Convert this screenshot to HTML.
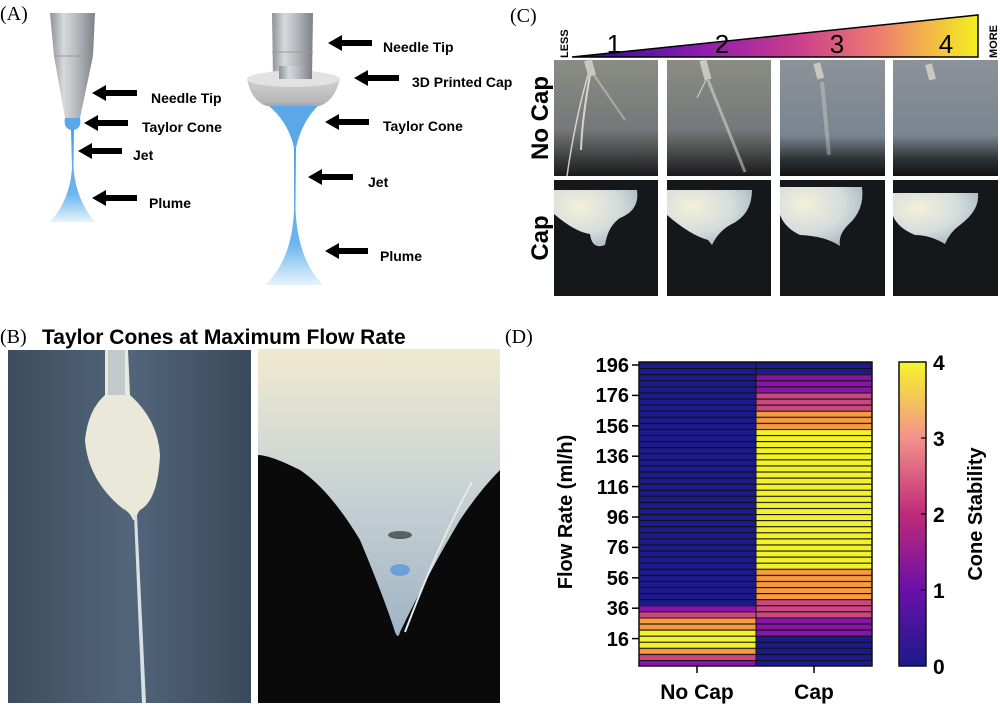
<!DOCTYPE html>
<html><head><meta charset="utf-8"><style>
html,body{margin:0;padding:0;background:#fff;width:1000px;height:708px;overflow:hidden}
svg{display:block}
.b{font-family:"Liberation Sans",sans-serif;font-weight:bold}
.s{font-family:"Liberation Serif",serif}
</style></head><body>
<svg width="1000" height="708" viewBox="0 0 1000 708" xmlns="http://www.w3.org/2000/svg">
<defs>
<linearGradient id="ndl" x1="0" x2="1"><stop offset="0" stop-color="#8e9296"/><stop offset=".3" stop-color="#d6d9dc"/><stop offset=".6" stop-color="#b5b9bd"/><stop offset="1" stop-color="#7d8185"/></linearGradient>
<linearGradient id="plm" x1="0" y1="0" x2="0" y2="1"><stop offset="0" stop-color="#4aa3e8"/><stop offset=".7" stop-color="#6db6ee"/><stop offset="1" stop-color="#e6f3fc"/></linearGradient>
<linearGradient id="cap" x1="0" y1="0" x2="0" y2="1"><stop offset="0" stop-color="#d8d8d8"/><stop offset="1" stop-color="#a9a9a9"/></linearGradient>
<linearGradient id="tri" x1="0" x2="1"><stop offset="0" stop-color="#1a1090"/><stop offset=".3" stop-color="#8a1ab0"/><stop offset=".55" stop-color="#c83c8c"/><stop offset=".75" stop-color="#ee7a70"/><stop offset="1" stop-color="#f4f020"/></linearGradient>
<linearGradient id="nc" x1="0" y1="0" x2="0" y2="1"><stop offset="0" stop-color="#8a8c84"/><stop offset=".6" stop-color="#75787a"/><stop offset="1" stop-color="#1a1a1a"/></linearGradient>
<linearGradient id="nc2" x1="0" y1="0" x2="0" y2="1"><stop offset="0" stop-color="#8c9298"/><stop offset=".65" stop-color="#7a8590"/><stop offset=".85" stop-color="#303438"/><stop offset="1" stop-color="#111"/></linearGradient>
<radialGradient id="capw" cx=".3" cy=".3" r=".8"><stop offset="0" stop-color="#f4f0da"/><stop offset=".6" stop-color="#d4dcdc"/><stop offset="1" stop-color="#a6b8c0"/></radialGradient>
<linearGradient id="bl" x1="0" x2="1"><stop offset="0" stop-color="#3d4d5e"/><stop offset=".5" stop-color="#52657a"/><stop offset="1" stop-color="#3a4a5c"/></linearGradient>
<linearGradient id="br" x1="0" y1="0" x2="0" y2="1"><stop offset="0" stop-color="#f0ead0"/><stop offset=".5" stop-color="#c8d2d4"/><stop offset="1" stop-color="#a0b4c4"/></linearGradient>
<linearGradient id="cb" x1="0" y1="1" x2="0" y2="0"><stop offset="0" stop-color="#1c1a8a"/><stop offset=".25" stop-color="#6a10a8"/><stop offset=".5" stop-color="#c02a78"/><stop offset=".75" stop-color="#f2928a"/><stop offset="1" stop-color="#f6f52a"/></linearGradient>
<pattern id="rows" patternUnits="userSpaceOnUse" x="639" y="362" width="233" height="6.08"><rect width="233" height="1.1" fill="#111"/></pattern>
</defs>

<!-- Panel A -->
<text x="0" y="20" class="s" font-size="20">(A)</text>
<path d="M50 13 L95 13 L93 56 L80 118 L65 118 L54 56 Z" fill="url(#ndl)"/>
<line x1="54" y1="56" x2="93" y2="56" stroke="#999" stroke-width="1"/>
<path d="M65 118 L80 118 Q82 128 74 130 L71 130 Q63 128 65 118Z" fill="#5aa8e8"/>
<path d="M71 130 L74 130 L73.5 168 Q76 200 95 222 L50 222 Q70 200 72 168Z" fill="url(#plm)"/>
<path d="M272 13 L313 13 L312 78 L273 78Z" fill="url(#ndl)"/>
<line x1="272" y1="52" x2="313" y2="52" stroke="#999"/>
<path d="M265 103 L321 103 Q302 120 296 148 L294 148 Q288 120 265 103Z" fill="#5aa8e8"/>
<path d="M247 79 Q293 60 340 79 Q335 100 320 106 L266 106 Q251 100 247 79Z" fill="url(#cap)" opacity=".9"/>
<ellipse cx="293.5" cy="79" rx="46.5" ry="8" fill="#e2e2e2"/>
<rect x="279" y="66" width="33" height="13" fill="url(#ndl)"/>
<path d="M294 148 L296 148 L295.5 210 Q298 260 323 285 L265 285 Q292 260 294 210Z" fill="url(#plm)"/>
<g fill="#000">
<path d="M92 93 L106 85 L106 90 L137 90 L137 96 L106 96 L106 101Z"/>
<path d="M84 123 L98 115 L98 120 L128 120 L128 126 L98 126 L98 131Z"/>
<path d="M78 151 L92 143 L92 148 L122 148 L122 154 L92 154 L92 159Z"/>
<path d="M92 198 L106 190 L106 195 L137 195 L137 201 L106 201 L106 206Z"/>
<path d="M328 43 L342 35 L342 40 L372 40 L372 46 L342 46 L342 51Z"/>
<path d="M354 78 L368 70 L368 75 L399 75 L399 81 L368 81 L368 86Z"/>
<path d="M325 122 L339 114 L339 119 L369 119 L369 125 L339 125 L339 130Z"/>
<path d="M308 177 L322 169 L322 174 L353 174 L353 180 L322 180 L322 185Z"/>
<path d="M325 251 L339 243 L339 248 L368 248 L368 254 L339 254 L339 259Z"/>
</g>
<g class="b" font-size="14" fill="#000">
<text x="151" y="103">Needle Tip</text>
<text x="142" y="132">Taylor Cone</text>
<text x="133" y="160">Jet</text>
<text x="149" y="208">Plume</text>
<text x="383" y="52">Needle Tip</text>
<text x="412" y="87">3D Printed Cap</text>
<text x="383" y="131">Taylor Cone</text>
<text x="368" y="187">Jet</text>
<text x="380" y="261">Plume</text>
</g>

<!-- Panel C -->
<text x="510" y="22" class="s" font-size="20">(C)</text>
<path d="M572 57 L978 15 L978 57Z" fill="url(#tri)" stroke="#000" stroke-width="1.5"/>
<text transform="translate(568,58) rotate(-90)" class="b" font-size="11">LESS</text>
<text transform="translate(997,58) rotate(-90)" class="b" font-size="11">MORE</text>
<g font-family="Liberation Sans,sans-serif" font-size="26" text-anchor="middle">
<text x="614" y="53">1</text><text x="722" y="53">2</text><text x="837" y="53">3</text><text x="946" y="53">4</text>
</g>
<text transform="translate(548,118) rotate(-90)" class="b" font-size="24" text-anchor="middle">No Cap</text>
<text transform="translate(548,238) rotate(-90)" class="b" font-size="24" text-anchor="middle">Cap</text>
<rect x="554" y="60" width="104" height="116" fill="url(#nc)"/>
<rect x="667" y="60" width="104" height="116" fill="url(#nc)"/>
<rect x="780" y="60" width="105" height="116" fill="url(#nc2)"/>
<rect x="893" y="60" width="105" height="116" fill="url(#nc2)"/>
<g stroke="#e8e4d8" fill="none" opacity=".85">
<path d="M588 75 Q575 120 567 176" stroke-width="1.5"/><path d="M590 75 Q582 120 581 150" stroke-width="2"/>
<path d="M594 75 L625 120" stroke-width="2" opacity=".5"/>
<path d="M708 80 L745 172" stroke-width="3" opacity=".6"/><path d="M706 80 L697 98" stroke-width="1"/>
<path d="M822 82 L829 155" stroke-width="4" opacity=".4"/>
</g>
<rect x="586" y="60" width="8" height="16" fill="#c8c8c0" transform="rotate(-15 590 68)"/>
<rect x="702" y="60" width="7" height="20" fill="#c8c8c0" transform="rotate(-15 705 70)"/>
<rect x="815" y="63" width="7" height="16" fill="#c8c8c0" transform="rotate(-15 818 70)"/>
<rect x="927" y="64" width="7" height="16" fill="#c8c8c0" transform="rotate(-15 930 72)"/>
<g>
<rect x="554" y="180" width="104" height="116" fill="#15171a"/>
<path d="M554 190 L637 190 Q640 210 620 218 Q608 226 605 245 Q592 250 590 234 Q575 232 554 214Z" fill="url(#capw)"/>
<rect x="667" y="180" width="104" height="116" fill="#15171a"/>
<path d="M667 190 L752 190 Q752 215 730 225 Q718 232 712 245 L708 240 Q690 235 667 215Z" fill="url(#capw)"/>
<rect x="780" y="180" width="105" height="116" fill="#15171a"/>
<path d="M780 187 L862 187 Q865 210 848 225 Q838 235 840 246 Q825 236 800 235 Q785 228 780 215Z" fill="url(#capw)"/>
<rect x="893" y="180" width="105" height="116" fill="#15171a"/>
<path d="M893 193 L978 193 Q980 210 960 225 Q950 232 945 244 Q930 235 915 235 Q898 228 893 216Z" fill="url(#capw)"/>
</g>

<!-- Panel B -->
<text x="0" y="343" class="s" font-size="20">(B)</text>
<text x="42" y="344" class="b" font-size="21">Taylor Cones at Maximum Flow Rate</text>
<rect x="8" y="350" width="243" height="353" fill="url(#bl)"/>
<path d="M105 350 L128 350 L130 395 Q158 420 160 455 Q158 500 140 510 Q136 515 136 520 L133 520 Q130 512 122 508 Q88 480 85 440 Q88 410 105 395Z" fill="#eae8d8"/>
<path d="M108 350 L125 350 L125 395 L108 395Z" fill="#b8c0c8" opacity=".8"/>
<path d="M134 515 L137 515 L146 703 L142 703Z" fill="#d8e0e6"/>
<rect x="258" y="349" width="242" height="354" fill="#0a0a0a"/>
<path d="M258 349 L500 349 L500 470 Q480 490 460 520 Q430 570 400 632 Q398 640 395 632 Q385 600 360 540 Q330 490 300 470 Q270 455 258 455Z" fill="url(#br)"/>
<path d="M472 482 Q440 540 405 632" stroke="#e8e8e8" stroke-width="2" fill="none"/>
<ellipse cx="400" cy="535" rx="12" ry="4" fill="#333" opacity=".7"/>
<ellipse cx="400" cy="570" rx="10" ry="6" fill="#3a8ae0" opacity=".6"/>

<!-- Panel D -->
<text x="505" y="343" class="s" font-size="20">(D)</text>
<rect x="639" y="362" width="117" height="243.2" fill="#1c1a8c"/>
<rect x="639" y="605.2" width="117" height="6.08" fill="#8a13a8"/>
<rect x="639" y="611.3" width="117" height="6.08" fill="#cc4680"/>
<rect x="639" y="617.4" width="117" height="12.16" fill="#f79a40"/>
<rect x="639" y="629.5" width="117" height="18.24" fill="#f3f22a"/>
<rect x="639" y="647.8" width="117" height="6.08" fill="#f79a40"/>
<rect x="639" y="653.8" width="117" height="6.08" fill="#cc4680"/>
<rect x="639" y="659.9" width="117" height="6.1" fill="#8a13a8"/>
<rect x="756" y="362" width="116" height="12.16" fill="#1c1a8c"/>
<rect x="756" y="374.2" width="116" height="18.24" fill="#8a13a8"/>
<rect x="756" y="392.4" width="116" height="18.24" fill="#cc4680"/>
<rect x="756" y="410.6" width="116" height="18.24" fill="#f79a40"/>
<rect x="756" y="428.9" width="116" height="139.84" fill="#f3f22a"/>
<rect x="756" y="568.7" width="116" height="30.4" fill="#f79a40"/>
<rect x="756" y="599.1" width="116" height="18.24" fill="#cc4680"/>
<rect x="756" y="617.4" width="116" height="18.24" fill="#8a13a8"/>
<rect x="756" y="635.6" width="116" height="30.4" fill="#1c1a8c"/>
<rect x="639" y="362" width="233" height="304" fill="url(#rows)"/>
<rect x="639" y="362" width="233" height="304" fill="none" stroke="#111" stroke-width="1.5"/>
<line x1="756" y1="362" x2="756" y2="666" stroke="#111" stroke-width="1"/>
<g stroke="#000" stroke-width="1.5">
<line x1="632" y1="365" x2="639" y2="365"/><line x1="632" y1="395.4" x2="639" y2="395.4"/><line x1="632" y1="425.8" x2="639" y2="425.8"/><line x1="632" y1="456.2" x2="639" y2="456.2"/><line x1="632" y1="486.6" x2="639" y2="486.6"/><line x1="632" y1="517" x2="639" y2="517"/><line x1="632" y1="547.4" x2="639" y2="547.4"/><line x1="632" y1="577.8" x2="639" y2="577.8"/><line x1="632" y1="608.2" x2="639" y2="608.2"/><line x1="632" y1="638.6" x2="639" y2="638.6"/>
<line x1="697" y1="666" x2="697" y2="673"/><line x1="814" y1="666" x2="814" y2="673"/>
</g>
<g class="b" font-size="20" text-anchor="end">
<text x="629" y="372">196</text><text x="629" y="402">176</text><text x="629" y="433">156</text><text x="629" y="463">136</text><text x="629" y="494">116</text><text x="629" y="524">96</text><text x="629" y="554">76</text><text x="629" y="585">56</text><text x="629" y="615">36</text><text x="629" y="646">16</text>
</g>
<text transform="translate(572,512) rotate(-90)" class="b" font-size="20" text-anchor="middle">Flow Rate (ml/h)</text>
<text x="697" y="699" class="b" font-size="21" text-anchor="middle">No Cap</text>
<text x="814" y="699" class="b" font-size="21" text-anchor="middle">Cap</text>
<rect x="899" y="362" width="27" height="304" fill="url(#cb)" stroke="#111" stroke-width="1.5"/>
<g stroke="#000" stroke-width="1.2"><line x1="921" y1="438" x2="926" y2="438"/><line x1="921" y1="514" x2="926" y2="514"/><line x1="921" y1="590" x2="926" y2="590"/></g>
<g class="b" font-size="21">
<text x="933" y="370">4</text><text x="933" y="446">3</text><text x="933" y="522">2</text><text x="933" y="598">1</text><text x="933" y="674">0</text>
</g>
<text transform="translate(982,514) rotate(-90)" class="b" font-size="20" text-anchor="middle">Cone Stability</text>
</svg>
</body></html>
